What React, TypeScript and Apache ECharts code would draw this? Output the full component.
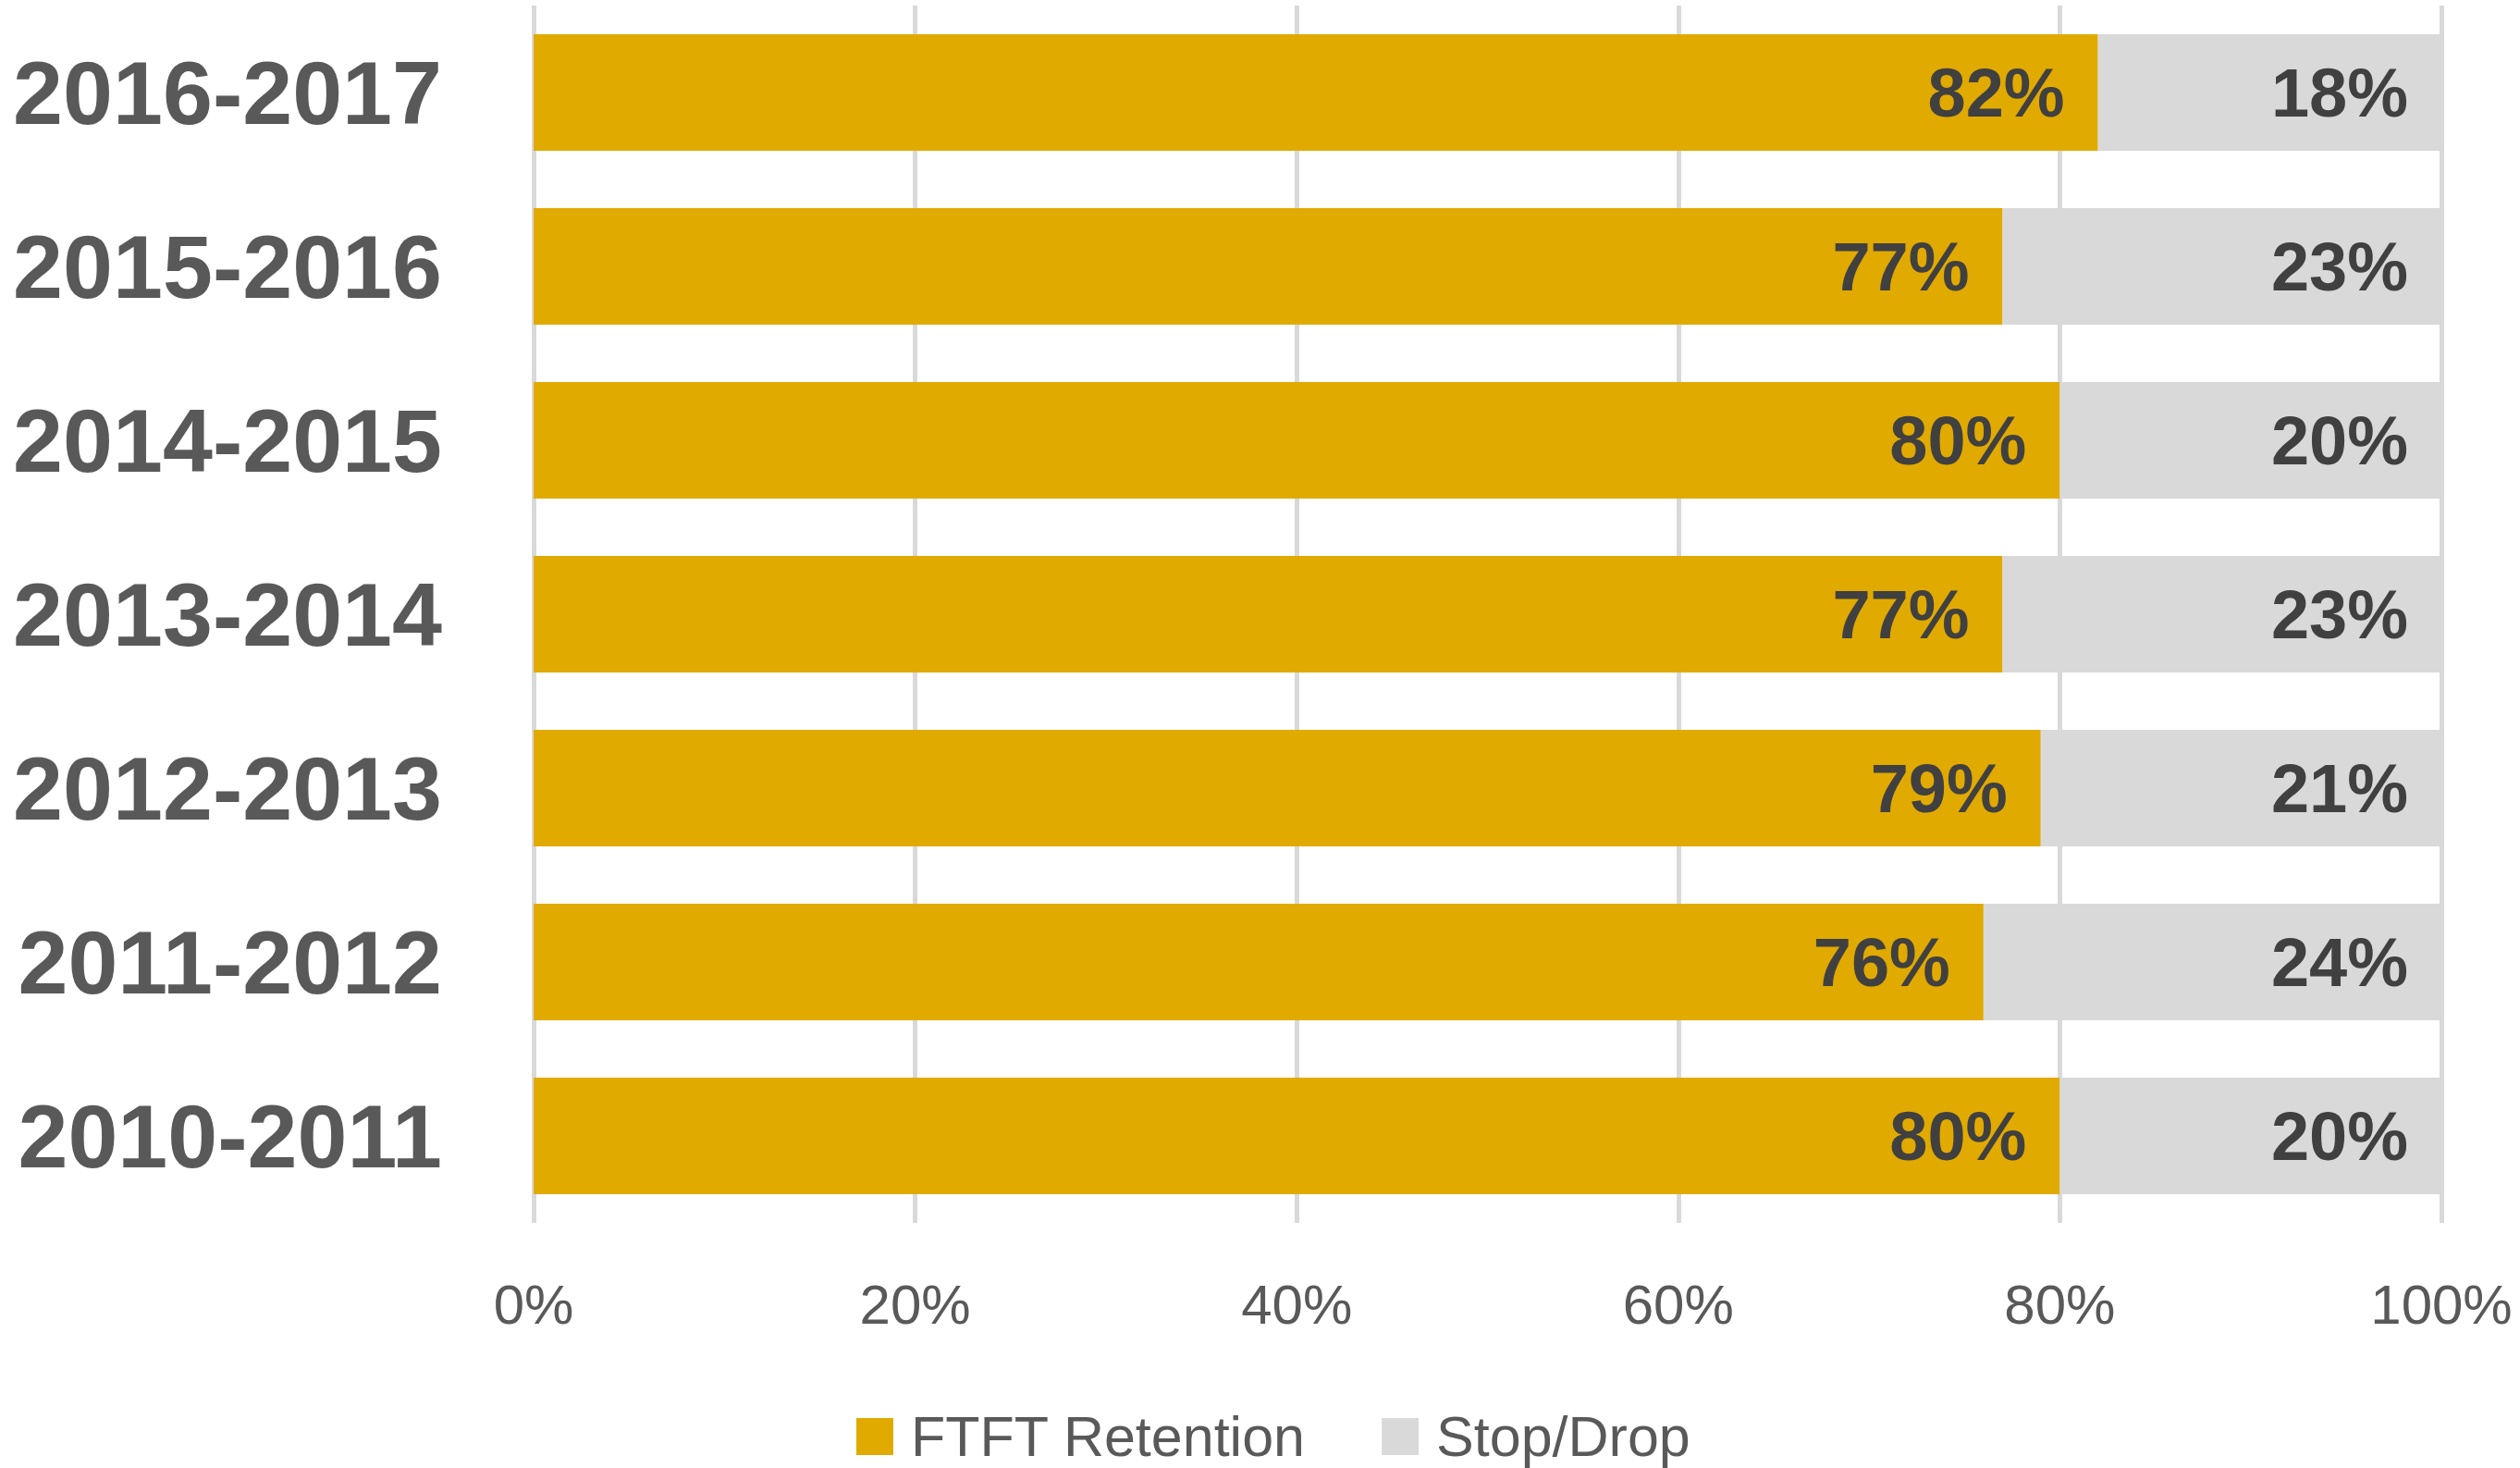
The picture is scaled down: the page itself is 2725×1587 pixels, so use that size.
import React, { useEffect, useRef } from "react";
import * as echarts from "echarts";

const categories = ["2010-2011", "2011-2012", "2012-2013", "2013-2014", "2014-2015", "2015-2016", "2016-2017"];
const retention = [80, 76, 79, 77, 80, 77, 82];
const stopDrop = [20, 24, 21, 23, 20, 23, 18];
const seriesNames = ["FTFT Retention", "Stop/Drop"];
const xTicks = [0, 20, 40, 60, 80, 100];

const FONT = "'Liberation Sans', Arial, sans-serif";
const GOLD = "#E1AA00";
const GRAY = "#D9D9D9";

export default function App() {
  const ref = useRef<HTMLDivElement>(null);
  useEffect(() => {
    if (!ref.current) return;
    const chart = echarts.init(ref.current, undefined, { renderer: "svg" });
    const label = {
      show: true,
      position: "insideRight",
      distance: 36,
      formatter: (p: any) => `${p.value}%`,
      color: "#404040",
      fontFamily: FONT,
      fontWeight: "bold",
      fontSize: 74,
    };
    chart.setOption({
      animation: false,
      backgroundColor: "#ffffff",
      grid: {
        left: 577,
        right: 85,
        top: 6,
        bottom: 265,
        containLabel: false,
        outerBoundsMode: "none",
      },
      xAxis: {
        type: "value",
        min: xTicks[0],
        max: xTicks[xTicks.length - 1],
        interval: 20,
        axisLine: { show: false },
        axisTick: { show: false },
        splitLine: { show: true, lineStyle: { color: GRAY, width: 5 } },
        axisLabel: {
          formatter: (v: number) => `${v}%`,
          color: "#595959",
          fontFamily: FONT,
          fontSize: 60,
          margin: 58,
        },
      },
      yAxis: {
        type: "category",
        data: categories,
        axisLine: { show: false },
        axisTick: { show: false },
        splitLine: { show: false },
        axisLabel: {
          color: "#595959",
          fontFamily: FONT,
          fontWeight: "bold",
          fontSize: 97,
          margin: 99,
        },
      },
      legend: {
        data: seriesNames,
        left: 926,
        top: 1522,
        padding: 0,
        icon: "rect",
        itemWidth: 40,
        itemHeight: 40,
        itemGap: 82,
        textStyle: {
          color: "#595959",
          fontFamily: FONT,
          fontSize: 61,
          lineHeight: 62,
          padding: [0, 0, 0, 14],
        },
      },
      series: [
        {
          name: seriesNames[0],
          type: "bar",
          stack: "total",
          data: retention,
          barCategoryGap: "33%",
          itemStyle: { color: GOLD },
          label,
        },
        {
          name: seriesNames[1],
          type: "bar",
          stack: "total",
          data: stopDrop,
          barCategoryGap: "33%",
          itemStyle: { color: GRAY },
          label,
        },
      ],
    });
    return () => chart.dispose();
  }, []);
  return (
    <div
      ref={ref}
      style={{ position: "absolute", left: 0, top: 0, width: 2725, height: 1587 }}
    />
  );
}
